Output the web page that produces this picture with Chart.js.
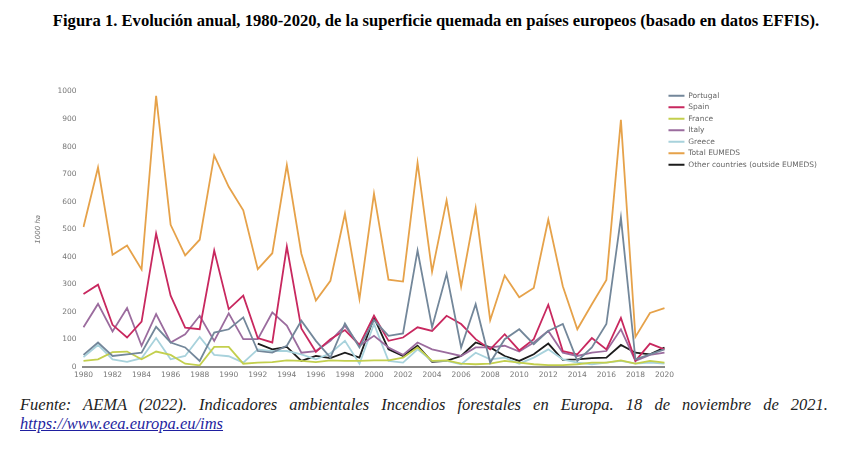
<!DOCTYPE html>
<html>
<head>
<meta charset="utf-8">
<script src="https://cdn.jsdelivr.net/npm/chart.js@4.4.1/dist/chart.umd.min.js"></script>
<style>
  body { margin: 0; background: #fff; width: 844px; height: 453px; overflow: hidden; position: relative; }
  #titulo { position: absolute; left: 14px; width: 844px; top: 11px; text-align: center;
    font: bold 16.6px "Liberation Serif", "Times New Roman", serif; color: #000; }
  #grafico { position: absolute; left: 34px; top: 80px; width: 793px; height: 304px; }
  #fuente { position: absolute; left: 20px; top: 395px; width: 808px;
    font: italic 16.5px "Liberation Serif", "Times New Roman", serif; line-height: 19px; color: #222; }
  #fuente .linea1 { text-align: justify; text-align-last: justify; }
  #fuente a { color: #1f1fa0; }
</style>
</head>
<body>
<div id="titulo">Figura 1. Evolución anual, 1980-2020, de la superficie quemada en países europeos (basado en datos EFFIS).</div>
<div id="grafico"><canvas id="graficoIncendios"></canvas></div>
<div id="fuente"><div class="linea1">Fuente: AEMA (2022). Indicadores ambientales Incendios forestales en Europa. 18 de noviembre de 2021.</div><a href="#">https://www.eea.europa.eu/ims</a></div>
<script>
// Años 1980-2020
const anos = [];
for (let a = 1980; a <= 2020; a++) anos.push(String(a));

// Superficie quemada (1000 ha)
const portugal = [44, 89, 40, 46, 52, 146, 89, 71, 22, 125, 137, 180, 58, 52, 77, 168, 95, 34, 158, 71,
  170, 113, 122, 423, 144, 338, 71, 228, 16, 101, 137, 83, 131, 156, 22, 71, 156, 542, 28, 46, 64];
const spain = [265, 299, 153, 107, 165, 484, 259, 143, 137, 423, 210, 259, 105, 89, 437, 140, 55, 101, 134, 80,
  186, 95, 107, 144, 131, 186, 156, 101, 64, 119, 60, 101, 226, 58, 46, 105, 64, 178, 22, 85, 64];
const france = [22, 28, 54, 56, 28, 56, 44, 12, 6, 73, 73, 12, 16, 18, 24, 22, 18, 24, 22, 22,
  24, 24, 34, 71, 22, 24, 12, 10, 12, 22, 16, 10, 7, 7, 10, 16, 16, 24, 12, 22, 16];
const italy = [144, 229, 129, 214, 77, 192, 89, 119, 186, 95, 195, 101, 101, 198, 150, 52, 58, 95, 150, 77,
  113, 71, 44, 89, 64, 52, 40, 71, 71, 77, 56, 89, 131, 52, 40, 52, 58, 137, 22, 44, 52];
const greece = [36, 80, 28, 19, 32, 105, 28, 40, 109, 44, 39, 16, 64, 58, 58, 46, 28, 50, 95, 12,
  156, 22, 16, 64, 22, 22, 10, 52, 28, 34, 12, 34, 64, 28, 16, 10, 16, 22, 12, 16, 12];
const totalEumeds = [508, 724, 407, 441, 354, 984, 516, 405, 462, 768, 654, 569, 355, 413, 733, 411, 241, 313, 556, 247,
  629, 317, 310, 741, 346, 605, 292, 577, 170, 332, 253, 287, 535, 293, 137, 228, 316, 897, 109, 196, 214];
const otros = [null, null, null, null, null, null, null, null, null, null, null, null, 85, 64, 73, 22, 40, 32, 52, 34,
  180, 64, 40, 77, 19, 22, 40, 89, 71, 40, 22, 46, 85, 26, 28, 32, 34, 80, 52, 46, 71];

const nombres = ["Portugal", "Spain", "France", "Italy", "Greece", "Total EUMEDS", "Other countries (outside EUMEDS)"];
const colores = ["#73879a", "#c8285f", "#c3cf4d", "#9b6c9e", "#a8d2dc", "#e6a24a", "#1c1c1c"];
const series = [portugal, spain, france, italy, greece, totalEumeds, otros];

const ctx = document.getElementById("graficoIncendios").getContext("2d");
new Chart(ctx, {
  type: "line",
  data: {
    labels: anos,
    datasets: series.map((s, i) => ({
      label: nombres[i],
      data: s,
      borderColor: colores[i],
      backgroundColor: colores[i],
      borderWidth: 1.8,
      pointRadius: 0,
      tension: 0,
      spanGaps: false
    }))
  },
  options: {
    responsive: true,
    maintainAspectRatio: false,
    animation: false,
    layout: { padding: { left: 0, right: 0, top: 8, bottom: 0 } },
    plugins: {
      legend: {
        position: "right",
        align: "start",
        labels: {
          boxWidth: 16,
          boxHeight: 0,
          padding: 4,
          color: "#666",
          font: { family: "DejaVu Sans", size: 7.5 }
        }
      },
      tooltip: { enabled: false }
    },
    scales: {
      x: {
        offset: false,
        grid: { display: false, drawTicks: false },
        border: { display: true, color: "#8a8a8a", width: 2 },
        ticks: {
          autoSkip: false,
          maxRotation: 0,
          padding: 4,
          color: "#777",
          font: { family: "DejaVu Sans", size: 7.5 },
          callback: function(v, i) { return i % 2 === 0 ? anos[i] : ""; }
        }
      },
      y: {
        min: 0,
        max: 1000,
        grid: { display: false, drawTicks: false },
        border: { display: false },
        ticks: {
          stepSize: 100,
          color: "#777",
          padding: 7,
          font: { family: "DejaVu Sans", size: 7.5 },
          callback: function(v) { return String(v); }
        },
        title: {
          display: true,
          text: "1000 ha",
          color: "#777",
          padding: { top: 0, bottom: 8 },
          font: { family: "DejaVu Sans", size: 7, style: "italic" }
        }
      }
    }
  }
});
</script>
</body>
</html>
